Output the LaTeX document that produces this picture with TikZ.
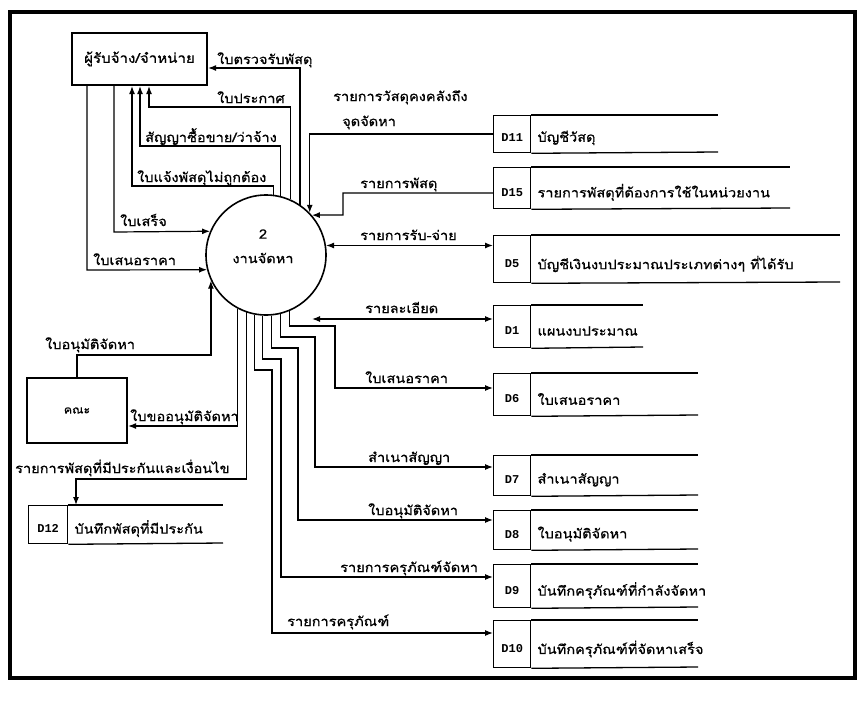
\documentclass[tikz,border=0pt]{standalone}
\usepackage{fontspec}
\newfontfamily\thai[Script=Thai,FakeStretch=1.12,FakeBold=0.8]{Loma}
\newfontfamily\dmono{Liberation Mono}
\usetikzlibrary{arrows.meta,calc}
\newcommand{\mystore}[8]{%
  \node[idbox, anchor=north west, minimum width={(#4-#3)*1pt}, minimum height={(#6-#5)*1pt}] (#1) at (#3,#5) {};
  \draw[storeline] (#1.north east) -- (#7,#5);
  \draw[storeline] (#1.south east) -- (#7,#6);
  \node[storeid] (#1id) at ($(#1.north)!0.6!(#1.south)$) {#2};
  \node[storelbl] (#1lbl) at ($(#1.north east)!0.6!(#1.south east)+(6,0)$) {#8};
}
\begin{document}
\begin{tikzpicture}[x=1pt,y=-1pt,
  flow/.style={draw, line width=1.2pt, -{Latex[length=8pt,width=6pt]}},
  biflow/.style={draw, line width=1.2pt, {Latex[length=8pt,width=6pt]}-{Latex[length=8pt,width=6pt]}},
  lbl/.style={font=\thai\fontsize{13}{14}\selectfont, inner sep=0pt, anchor=base west},
  entity/.style={draw, line width=2.2pt, inner sep=0pt, font=\thai\fontsize{13.5}{14}\selectfont},
  idbox/.style={draw, line width=1.3pt, inner sep=0pt},
  storeline/.style={line width=1.3pt},
  storeid/.style={font=\dmono\bfseries\fontsize{12}{13}\selectfont, inner sep=0pt},
  storelbl/.style={font=\thai\fontsize{13}{14}\selectfont, inner sep=0pt, anchor=west},
]
\useasboundingbox (0,0) rectangle (858,704);
\fill[white] (0,0) rectangle (858,704);
\draw[line width=3.5pt] (10,12) rectangle (855,678);

% entities and process
\node[entity, minimum width=135pt, minimum height=52pt] (ent) at (139.5,59) {ผู้รับจ้าง/จำหน่าย};
\node[entity, minimum width=100pt, minimum height=65pt, font=\thai\fontsize{11}{12}\selectfont] (kana) at (77,410.5) {คณะ};
\node[draw, circle, line width=1.6pt, minimum size=120pt, inner sep=0pt] (proc) at (266,255) {};
\node[font=\thai\fontsize{13}{14}\selectfont, inner sep=0pt] (pnum) at (263,234) {2};
\node[font=\thai\fontsize{13}{14}\selectfont, inner sep=0pt] (pname) at (263,258) {งานจัดหา};

% data stores
\mystore{d11}{D11}{493}{530}{115}{152}{718}{บัญชีวัสดุ}
\mystore{d15}{D15}{493}{530}{167}{208}{790}{รายการพัสดุที่ต้องการใช้ในหน่วยงาน}
\mystore{d5}{D5}{493}{530}{235}{282}{840}{บัญชีเงินงบประมาณประเภทต่างๆ ที่ได้รับ}
\mystore{d1}{D1}{493}{530}{305}{347}{643}{แผนงบประมาณ}
\mystore{d6}{D6}{493}{530}{373}{415}{698}{ใบเสนอราคา}
\mystore{d7}{D7}{493}{530}{455}{495}{698}{สำเนาสัญญา}
\mystore{d8}{D8}{493}{530}{510}{549}{698}{ใบอนุมัติจัดหา}
\mystore{d9}{D9}{493}{530}{564}{607}{698}{บันทึกครุภัณฑ์ที่กำลังจัดหา}
\mystore{d10}{D10}{493}{530}{620}{667}{698}{บันทึกครุภัณฑ์ที่จัดหาเสร็จ}
\mystore{d12}{D12}{28}{67}{505}{543}{223}{บันทึกพัสดุที่มีประกัน}

% flows with the contractor
\draw[flow] (proc.56.6) -- (proc.56.6 |- 0,68) -- (ent.east |- 0,68);
\node[lbl] (l1) at (217,64) {ใบตรวจรับพัสดุ};
\draw[flow] (proc.66.4) -- (proc.66.4 |- 0,107) -- (149,107) -- (ent.south -| 149,0);
\node[lbl] (l2) at (217,103) {ใบประกาศ};
\draw[flow] (proc.76.5) -- (proc.76.5 |- 0,146) -- (140,146) -- (ent.south -| 140,0);
\node[lbl] (l3) at (145,142) {สัญญาซื้อขาย/ว่าจ้าง};
\draw[flow] (proc.83.3) -- (proc.83.3 |- 0,186) -- (132,186) -- (ent.south -| 132,0);
\node[lbl] (l4) at (137,182) {ใบแจ้งพัสดุไม่ถูกต้อง};
\draw[flow] (ent.south -| 114,0) -- (114,232) -- (proc.157.5);
\node[lbl] (l5) at (120,226) {ใบเสร็จ};
\draw[flow] (ent.south -| 87,0) -- (87,270) -- (proc.194.5);
\node[lbl] (l6) at (93,265) {ใบเสนอราคา};

% flows with stores on the right
\draw[flow] (d11.west |- 0,134) -- (proc.44.2 |- 0,134) -- (proc.44.2);
\node[lbl] (l7) at (333,101) {รายการวัสดุคงคลังถึง};
\node[lbl] (l7b) at (342,126) {จุดจัดหา};
\draw[flow] (d15.west |- 0,193) -- (343,193) -- (343,215) -- (proc.41.8);
\node[lbl] (l8) at (360,188) {รายการพัสดุ};
\draw[biflow] (proc.9.6) -- (d5.west |- proc.9.6);
\node[lbl] (l9) at (360,240) {รายการรับ-จ่าย};
\coordinate (dtip) at (312,319);
\draw[biflow] (dtip) -- (d1.west |- dtip);
\node[lbl] (l10) at (365,313) {รายละเอียด};
\draw[flow] (proc.293.6) -- (proc.293.6 |- 0,326) -- (335,326) -- (335,388) -- (d6.west |- 0,388);
\node[lbl] (l11) at (365,383) {ใบเสนอราคา};
\draw[flow] (proc.284.5) -- (proc.284.5 |- 0,337) -- (315,337) -- (315,467) -- (d7.west |- 0,467);
\node[lbl] (l12) at (368,462) {สำเนาสัญญา};
\draw[flow] (proc.275.7) -- (proc.275.7 |- 0,348) -- (298,348) -- (298,520) -- (d8.west |- 0,520);
\node[lbl] (l13) at (368,515) {ใบอนุมัติจัดหา};
\draw[flow] (proc.267.1) -- (proc.267.1 |- 0,359) -- (281,359) -- (281,577) -- (d9.west |- 0,577);
\node[lbl] (l14) at (340,572) {รายการครุภัณฑ์จัดหา};
\draw[flow] (proc.259.4) -- (proc.259.4 |- 0,370) -- (272,370) -- (272,633) -- (d10.west |- 0,633);
\node[lbl] (l15) at (287,626) {รายการครุภัณฑ์};

% flows with the committee and D12
\draw[flow] (kana.north) -- (77,355) -- (proc.205.8 |- 0,355) -- (proc.205.8);
\node[lbl] (l16) at (45,349) {ใบอนุมัติจัดหา};
\draw[flow] (proc.242.2) -- (proc.242.2 |- 0,426) -- (kana.east |- 0,426);
\node[lbl] (l17) at (130,421) {ใบขออนุมัติจัดหา};
\draw[flow] (proc.251.5) -- (proc.251.5 |- 0,479) -- (76,479) -- (d12.north east -| 76,0);
\node[lbl] (l18) at (15,473) {รายการพัสดุที่มีประกันและเงื่อนไข};
\end{tikzpicture}
\end{document}
